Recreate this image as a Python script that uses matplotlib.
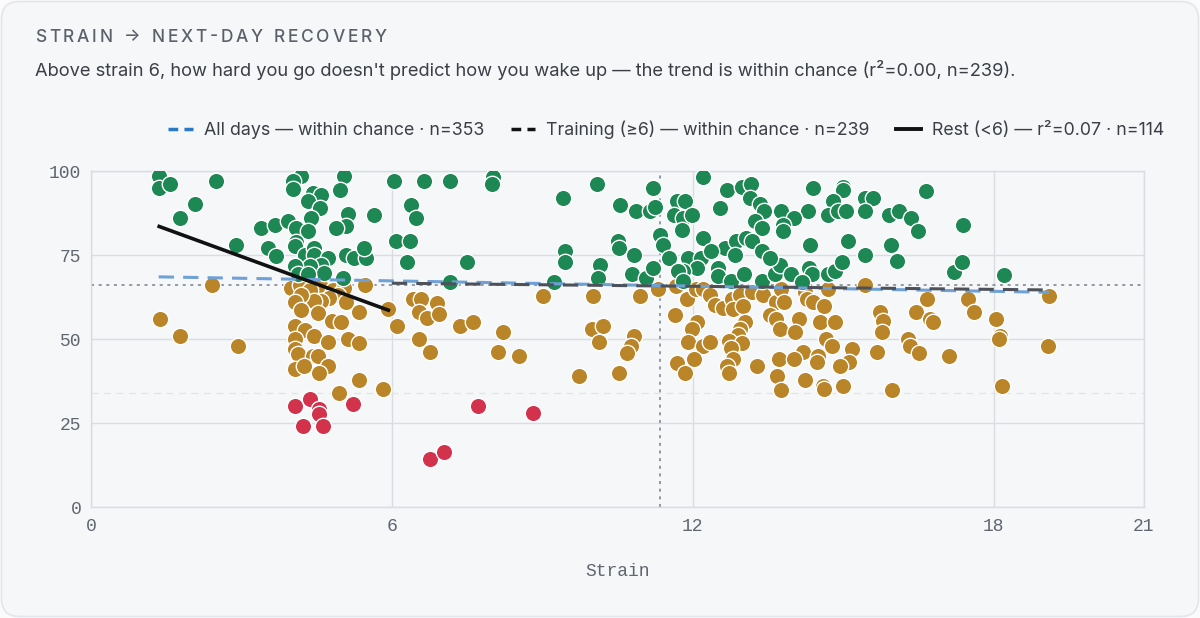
import matplotlib
matplotlib.use("Agg")
import matplotlib.pyplot as plt
from matplotlib.patches import FancyBboxPatch
from matplotlib.lines import Line2D
from matplotlib.textpath import TextToPath
from matplotlib.font_manager import FontProperties
import numpy as np

# ---------------- data ----------------
green_x = [1.35, 1.36, 1.58, 2.49, 2.07, 1.78, 2.89, 3.40, 3.66, 3.92, 3.52, 3.69,
           4.18, 4.02, 4.02, 4.42, 4.59, 4.32, 4.57, 4.39, 5.05, 4.97, 5.12, 5.09,
           4.89, 5.64, 4.09, 4.32, 4.09, 4.07, 4.26, 4.44, 4.44, 4.72, 4.59, 4.36,
           4.06, 4.12, 4.65, 4.32, 5.09, 5.25, 5.49, 5.45, 5.02, 6.05, 6.64, 6.38,
           6.48, 6.08, 6.36, 6.30,
           7.16, 8.01, 7.99, 9.41, 10.10, 7.49, 7.15, 9.45, 9.45, 9.23, 10.15, 10.12,
           10.54, 10.86, 11.15, 11.25, 11.21, 10.50, 10.52, 10.82, 10.78, 11.07, 11.20,
           11.35, 11.40, 11.53, 11.69, 11.85, 11.63, 11.80, 11.98, 11.78, 12.21, 12.68,
           12.54, 12.98, 13.16, 13.14, 13.34, 13.43, 13.24, 13.38, 12.20, 12.64, 12.86,
           13.06, 13.18, 12.84, 13.38, 11.91, 12.16, 12.36, 12.08, 11.81, 11.71, 11.81,
           12.51, 12.51, 12.76, 13.03, 13.38, 13.64,
           14.39, 15.00, 14.99, 14.79, 15.43, 15.60, 16.66, 13.77, 14.30, 14.70, 14.90,
           15.06, 15.43, 15.92, 16.12, 16.35, 16.49, 17.40, 14.02, 13.81, 13.81, 14.34,
           15.09, 15.95, 15.43, 16.07, 13.74, 13.54, 13.97, 14.32, 14.37, 14.18,
           14.70, 14.84, 14.97, 17.21, 17.38, 18.21]
green_y = [98.4, 95.0, 96.2, 97.1, 90.2, 86.0, 78.1, 83.0, 84.0, 85.2, 77.1, 74.6,
           98.4, 97.0, 94.5, 93.5, 93.0, 91.0, 89.0, 86.0, 98.4, 94.2, 87.3, 83.7,
           83.0, 87.0, 83.0, 82.0, 79.0, 77.6, 75.1, 77.1, 75.1, 74.1, 72.1, 71.6,
           71.6, 69.2, 69.7, 69.2, 75.1, 74.1, 74.1, 77.1, 68.2, 97.1, 97.1, 90.0,
           86.0, 79.1, 79.1, 72.9,
           97.1, 98.2, 96.2, 92.0, 96.1, 72.9, 67.0, 76.3, 72.9, 67.0, 72.0, 68.2,
           90.0, 88.0, 88.0, 89.2, 95.0, 79.1, 77.1, 75.1, 69.2, 68.2, 71.1,
           81.1, 77.9, 74.1, 91.2, 91.2, 87.0, 86.0, 87.0, 82.3, 98.1, 94.2,
           89.0, 95.2, 96.2, 92.0, 90.2, 88.0, 85.0, 83.0, 80.1, 77.1, 79.1,
           80.1, 79.1, 75.1, 76.1, 74.1, 74.1, 76.1, 71.1, 70.1, 70.1, 67.2,
           71.1, 68.7, 67.2, 69.2, 67.2, 69.2,
           95.0, 95.2, 94.3, 91.2, 92.0, 92.0, 94.0, 88.2, 88.2, 87.0, 88.0,
           88.2, 88.2, 87.0, 88.2, 86.0, 82.0, 84.0, 86.0, 84.0, 82.0, 78.1,
           79.1, 78.1, 74.9, 73.1, 71.9, 74.1, 69.2, 71.1, 69.2, 66.9,
           69.2, 70.1, 72.9, 69.9, 72.9, 69.0]

amber_x = [2.41, 1.38, 1.78, 2.94, 3.99, 4.16, 4.57, 4.36, 4.82, 5.05, 4.92, 4.75,
           4.59, 4.45, 4.19, 4.07, 4.18, 4.52, 5.09, 5.35, 5.47, 5.93, 6.10, 4.80,
           4.99, 4.07, 4.26, 4.44, 4.06, 4.72, 5.13, 5.35, 4.07, 4.12, 4.42, 4.52,
           4.06, 4.24, 4.73, 4.54, 5.35, 4.95, 5.82, 6.54, 6.77, 6.42, 6.58, 6.55,
           6.70, 6.91, 6.95,
           7.36, 7.61, 8.21, 8.11, 8.54, 9.01, 10.02, 10.94, 10.00, 10.22, 10.14,
           9.74, 10.52, 10.82, 10.76, 10.68, 11.31, 11.67, 11.88, 11.65, 12.08, 11.98,
           11.91, 12.20, 12.34, 11.68, 12.03, 11.85, 12.07, 12.21, 12.35, 12.45, 12.61,
           12.78, 12.94, 12.81, 13.00, 13.18, 13.40, 13.67, 13.04, 12.94, 12.91, 12.73,
           12.98, 12.76, 12.81, 12.68, 12.73, 13.28,
           13.77, 14.24, 14.27, 13.82, 14.40, 14.62, 14.70, 15.43, 13.54, 13.67, 13.74,
           14.11, 14.04, 14.54, 14.84, 14.66, 14.78, 15.17, 14.20, 13.72, 14.02, 14.50,
           14.48, 15.12, 14.94, 13.69, 14.24, 13.77, 14.60, 14.62, 14.99, 15.97, 15.73,
           15.79, 15.78, 15.68, 16.29, 16.33, 16.52, 16.67, 16.45, 16.73, 16.80, 17.12,
           17.50, 17.60, 18.05, 18.13, 18.11, 18.17, 19.11, 19.09]
amber_y = [66.0, 56.0, 51.0, 47.8, 65.2, 66.2, 66.2, 64.7, 64.7, 65.2, 63.2, 62.2,
           61.2, 61.2, 63.2, 60.9, 58.7, 57.7, 60.9, 58.0, 66.0, 58.9, 54.0, 55.3,
           55.0, 54.0, 52.8, 51.0, 50.0, 49.0, 50.0, 48.8, 47.0, 45.4, 44.9, 44.9,
           41.1, 42.1, 42.1, 39.9, 37.9, 34.0, 35.0, 50.0, 46.0, 61.9, 61.9, 58.0,
           56.3, 60.7, 57.3,
           54.0, 55.0, 52.0, 46.0, 45.0, 62.9, 62.9, 62.9, 53.0, 54.0, 49.0,
           38.9, 39.9, 51.0, 47.8, 45.8, 64.9, 65.9, 61.9, 57.0, 55.0, 53.0,
           49.0, 48.0, 49.0, 43.0, 44.0, 39.9, 64.9, 64.9, 63.2, 60.2, 59.2,
           61.9, 63.2, 58.9, 59.7, 63.9, 63.2, 60.9, 55.0, 53.0, 51.3, 49.3,
           48.8, 47.3, 44.0, 42.1, 39.9, 41.9,
           64.9, 63.9, 61.9, 60.9, 60.9, 59.9, 64.9, 66.0, 57.0, 56.0, 53.0,
           56.0, 52.0, 55.0, 55.0, 50.0, 47.8, 47.0, 46.0, 43.9, 44.1, 45.0,
           43.1, 43.1, 41.9, 38.9, 37.9, 34.9, 35.9, 35.1, 35.9, 34.9, 58.0,
           55.3, 52.0, 46.0, 50.0, 47.8, 45.8, 61.9, 58.0, 56.0, 55.0, 44.9,
           61.9, 58.0, 56.0, 51.0, 50.0, 35.9, 62.9, 47.8]

red_x = [4.06, 4.36, 4.55, 4.55, 4.22, 4.62, 5.22, 6.76, 7.04, 7.71, 8.82]
red_y = [30.0, 32.0, 29.2, 27.8, 24.0, 24.0, 30.8, 14.3, 16.4, 30.0, 28.0]

# trend lines: (x start, x end, slope, intercept)
all_days_fit = (1.35, 19.11, -0.259, 68.85)
training_fit = (6.0, 19.11, -0.153, 67.52)
rest_fit = (1.36, 5.93, -5.45, 90.9)

mean_recovery = 66.0
mean_strain = 11.35
red_threshold = 34.0

x_ticks = [0, 6, 12, 18, 21]
y_ticks = [0, 25, 50, 75, 100]

legend_labels = ["All days \u2014 within chance \u00b7 n=353",
                 "Training (\u22656) \u2014 within chance \u00b7 n=239",
                 "Rest (<6) \u2014 r\u00b2=0.07 \u00b7 n=114"]

title = "STRAIN \u2192 NEXT-DAY RECOVERY"
subtitle = ("Above strain 6, how hard you go doesn't predict how you wake up \u2014 "
            "the trend is within chance (r\u00b2=0.00, n=239).")

# ---------------- styling ----------------
GREEN = "#1e8854"
AMBER = "#b98528"
RED = "#d3324c"
CARD = "#f5f7f9"
TEXT = "#3a3f45"
MUTED = "#5f6670"
GRID = "#d9dde2"

SANS = ["Inter", "DejaVu Sans"]
MONO = ["Liberation Mono", "DejaVu Sans Mono"]

W, H = 1200, 618
fig = plt.figure(figsize=(W / 100, H / 100), dpi=100)
fig.patch.set_facecolor("#fbfbfc")

card = FancyBboxPatch((1.5 / W, 1.5 / H), (W - 3) / W, (H - 3) / H,
                      boxstyle="round,pad=0,rounding_size=0.015",
                      transform=fig.transFigure, facecolor=CARD,
                      edgecolor="#e3e6ea", linewidth=1.2, zorder=-10,
                      mutation_aspect=W / H)
fig.patches.append(card)

left, right, top, bottom = 91, 1144, 171, 507
ax = fig.add_axes([left / W, 1 - bottom / H, (right - left) / W, (bottom - top) / H])
ax.set_zorder(1)
ax.set_facecolor(CARD)
ax.set_xlim(0, 21)
ax.set_ylim(0, 100)

for s in ax.spines.values():
    s.set_color(GRID)
    s.set_linewidth(1.0)

ax.set_xticks(x_ticks)
ax.set_yticks(y_ticks)
ax.grid(True, color=GRID, linewidth=1.0, zorder=0)
ax.set_axisbelow(True)
ax.tick_params(axis="y", length=0, pad=7, labelcolor=MUTED, labelsize=13)
ax.tick_params(axis="x", length=0, pad=8, labelcolor=MUTED, labelsize=13)
for lab in ax.get_xticklabels() + ax.get_yticklabels():
    lab.set_family(MONO)
ax.set_xlabel("Strain", family=MONO, color=MUTED, fontsize=13, labelpad=20)

# reference lines
ax.axhline(mean_recovery, color="#7a8089", linestyle=(0, (2, 3)), linewidth=1.1, zorder=1)
ax.axvline(mean_strain, color="#7a8089", linestyle=(0, (2, 3)), linewidth=1.1, zorder=1)
ax.axhline(red_threshold, color="#e1e4e8", linestyle=(0, (5, 4)), linewidth=1.0, zorder=1)

msize = 140
kw = dict(s=msize, edgecolors="white", linewidths=1.0, zorder=3)
ax.scatter(amber_x, amber_y, color=AMBER, **kw)
ax.scatter(green_x, green_y, color=GREEN, **kw)
ax.scatter(red_x, red_y, color=RED, **kw)


def fit_line(fit):
    x0, x1, m, b = fit
    xs = np.array([x0, x1])
    return xs, m * xs + b


xs, ys = fit_line(all_days_fit)
ax.plot(xs, ys, color="#6fa0d6", linestyle=(0, (5, 3)), linewidth=2.2, zorder=4)
xs, ys = fit_line(training_fit)
ax.plot(xs, ys, color="#4d525a", linestyle=(0, (5, 3)), linewidth=2.2, zorder=4)
xs, ys = fit_line(rest_fit)
ax.plot(xs, ys, color="#111111", linestyle="-", linewidth=2.6, zorder=4)

# legend
handles = [Line2D([], [], color="#2a78c6", linestyle=(0, (2.8, 1.8)), linewidth=2.5),
           Line2D([], [], color="#111111", linestyle=(0, (2.8, 1.8)), linewidth=2.5),
           Line2D([], [], color="#111111", linestyle="-", linewidth=2.8)]
leg = fig.legend(handles, legend_labels, loc="center right",
                 bbox_to_anchor=(1180 / W, 1 - 130 / H), ncol=3, frameon=False,
                 prop={"family": SANS, "size": 12.8}, handlelength=1.4,
                 handletextpad=0.6, columnspacing=1.5, labelcolor=TEXT)

# letter-spaced title
fp = FontProperties(family=SANS, size=12.5, weight="medium")
ttp = TextToPath()
xpos = 35.0
for ch in title:
    fig.text(xpos / W, 1 - 37 / H, ch, fontproperties=fp, color="#5a616a",
             va="center", ha="left")
    if ch == " ":
        w = 4.0 * 100 / 72
    else:
        w, _, _ = ttp.get_text_width_height_descent(ch, fp, ismath=False)
        w = w * 100 / 72
    xpos += w + 2.75

fig.text(35 / W, 1 - 70 / H, subtitle, family=SANS, fontsize=13.2, color=TEXT,
         va="center", ha="left")

fig.savefig("out.png", dpi=100, facecolor=fig.get_facecolor())
